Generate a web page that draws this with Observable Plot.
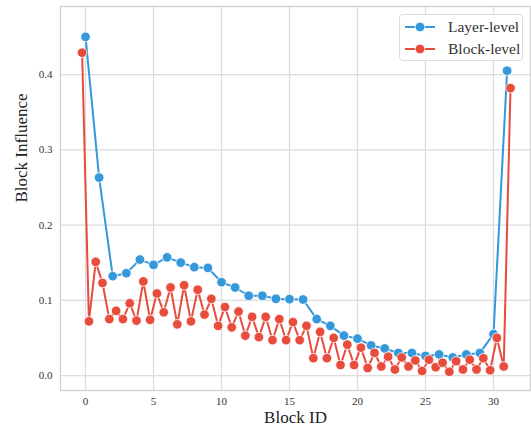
<!DOCTYPE html>
<html>
<head>
<meta charset="utf-8">
<script src="https://cdn.jsdelivr.net/npm/d3@7"></script>
<script src="https://cdn.jsdelivr.net/npm/@observablehq/plot@0.6"></script>
<style>
  html, body { margin: 0; padding: 0; background: white; }
  #wrap { position: relative; width: 531px; height: 432px; }
  #chart svg, #chart svg text { font-family: "Liberation Serif", "DejaVu Serif", serif; }
  #legend {
    position: absolute; left: 399px; top: 14px; width: 124px; height: 47px;
    border: 1px solid #dcdcdc; border-radius: 4px; background: rgba(255,255,255,0.85);
    font-family: "Liberation Serif", "DejaVu Serif", serif; font-size: 15.5px; color: #333;
    box-sizing: border-box;
  }
  .row { position: absolute; left: 4px; height: 20px; display: flex; align-items: center; }
  .row svg { display: block; }
  .row span { margin-left: 12px; white-space: nowrap; }
</style>
</head>
<body>
<div id="wrap">
  <div id="chart"></div>
  <div id="legend"></div>
</div>
<script>
const layerIds = d3.range(32);
const layerValues = [0.450, 0.263, 0.132, 0.136, 0.154, 0.147, 0.157, 0.150, 0.144, 0.143,
  0.124, 0.117, 0.106, 0.106, 0.102, 0.1015, 0.101, 0.075, 0.066, 0.053,
  0.049, 0.040, 0.036, 0.030, 0.030, 0.026, 0.028, 0.024, 0.028, 0.030,
  0.055, 0.405];

const blockPositions = d3.range(64).map(j => -0.25 + 0.5 * j);
const blockValues = [0.429, 0.072, 0.151, 0.123, 0.075, 0.086, 0.075, 0.096, 0.073, 0.125,
  0.074, 0.109, 0.084, 0.117, 0.068, 0.120, 0.072, 0.114, 0.081, 0.102,
  0.066, 0.091, 0.064, 0.085, 0.053, 0.078, 0.051, 0.078, 0.047, 0.075,
  0.047, 0.071, 0.047, 0.066, 0.023, 0.058, 0.023, 0.050, 0.014, 0.041,
  0.014, 0.037, 0.010, 0.030, 0.012, 0.025, 0.008, 0.024, 0.012, 0.020,
  0.006, 0.021, 0.011, 0.017, 0.005, 0.019, 0.008, 0.021, 0.008, 0.023,
  0.007, 0.050, 0.012, 0.382];

const xTicks = [0, 5, 10, 15, 20, 25, 30];
const yTicks = [0, 0.1, 0.2, 0.3, 0.4];
const seriesNames = ["Layer-level", "Block-level"];
const seriesColors = ["#3498db", "#e74c3c"];

const layerData = layerIds.map((x, i) => ({x, y: layerValues[i]}));
const blockData = blockPositions.map((x, i) => ({x, y: blockValues[i]}));

const serif = "Liberation Serif, DejaVu Serif, serif";

const chart = Plot.plot({
  width: 531,
  height: 432,
  marginLeft: 60,
  marginTop: 6,
  marginRight: 1,
  marginBottom: 42,
  style: {fontFamily: serif, fontSize: "11px", color: "#333", background: "white"},
  x: {domain: [-1.84, 32.72]},
  y: {domain: [-0.0199, 0.4904]},
  marks: [
    Plot.gridX(xTicks, {stroke: "#dcdcdc", strokeOpacity: 1, strokeWidth: 1.3}),
    Plot.gridY(yTicks, {stroke: "#dcdcdc", strokeOpacity: 1, strokeWidth: 1.3}),
    Plot.frame({stroke: "#d0d0d0", strokeWidth: 1.3}),
    Plot.axisX({ticks: xTicks, tickSize: 0, tickPadding: 7, label: null, fontSize: 11, fill: "#333", fontFamily: serif}),
    Plot.axisY({ticks: yTicks, tickSize: 0, tickPadding: 8, label: null, tickFormat: d3.format(".1f"), fontSize: 11, fill: "#333", fontFamily: serif}),
    Plot.text(["Block ID"], {frameAnchor: "bottom", dy: 32, fontSize: 17, fill: "#222", fontFamily: serif}),
    Plot.text(["Block Influence"], {frameAnchor: "left", dx: -39, dy: 4, rotate: -90, fontSize: 17, fill: "#222", fontFamily: serif}),
    Plot.line(layerData, {x: "x", y: "y", stroke: seriesColors[0], strokeWidth: 2}),
    Plot.dot(layerData, {x: "x", y: "y", r: 4.8, fill: seriesColors[0], stroke: "white", strokeWidth: 0.8}),
    Plot.line(blockData, {x: "x", y: "y", stroke: seriesColors[1], strokeWidth: 2}),
    Plot.dot(blockData, {x: "x", y: "y", r: 4.8, fill: seriesColors[1], stroke: "white", strokeWidth: 0.8})
  ]
});
document.getElementById("chart").appendChild(chart);

const legend = document.getElementById("legend");
seriesNames.forEach((name, i) => {
  const row = document.createElement("div");
  row.className = "row";
  row.style.top = (i === 0 ? 2 : 24) + "px";
  row.innerHTML = `<svg width="32" height="20"><line x1="1" x2="31" y1="10" y2="10" stroke="${seriesColors[i]}" stroke-width="2"/><circle cx="16" cy="10" r="4.8" fill="${seriesColors[i]}" stroke="white" stroke-width="0.8"/></svg><span>${name}</span>`;
  legend.appendChild(row);
});
</script>
</body>
</html>
